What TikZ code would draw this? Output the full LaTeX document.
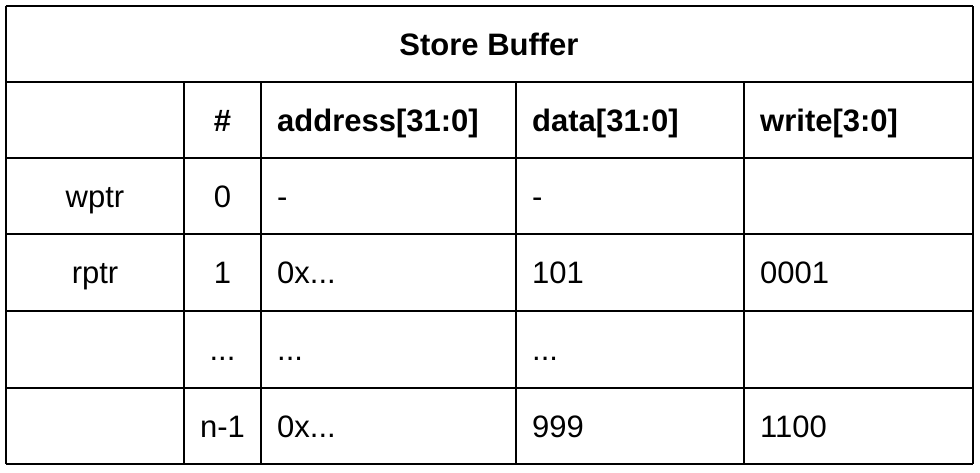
\documentclass[tikz,border=0pt]{standalone}
\usepackage{fontspec}
\setmainfont{Liberation Sans}
\usepackage{tikz}
\usetikzlibrary{calc}

\tikzset{
  cell/.style={inner sep=0pt, anchor=base, font=\fontsize{31}{37}\selectfont},
  lcell/.style={cell, anchor=base west},
  hdr/.style={font=\fontsize{31}{37}\selectfont\bfseries},
  grid/.style={line width=2pt, black}
}

\begin{document}
\begin{tikzpicture}[x=1pt, y=1pt]
  \newcommand\padLeft{16}
  \useasboundingbox (0,0) rectangle (980,-472);

  % horizontal rules
  \foreach \y in {6,82,158,234,311,388,464}{
    \draw[grid] (5.5,-\y) -- (973,-\y);
  }
  % vertical rules
  \foreach \x in {5.5,973}{
    \draw[grid] (\x,-6) -- (\x,-464);
  }
  \foreach \x in {184,261,516,744}{
    \draw[grid] (\x,-82) -- (\x,-464);
  }

  \node[cell, hdr] (title) at (489,-55.5) {Store Buffer};

  % header row
  \node[cell, hdr] (hnum) at (222.5,-131.5) {\#};
  \node[lcell, hdr] (haddr) at (261+\padLeft,-131.5) {address[31:0]};
  \node[lcell, hdr] (hdata) at (516+\padLeft,-131.5) {data[31:0]};
  \node[lcell, hdr] (hwrite) at (744+\padLeft,-131.5) {write[3:0]};

  % entries
  \node[cell] (wptr) at (95,-207.5) {wptr};
  \node[cell] (num0) at (222.5,-207.5) {0};
  \node[lcell] (addr0) at (261+\padLeft,-207.5) {-};
  \node[lcell] (data0) at (516+\padLeft,-207.5) {-};

  \node[cell] (rptr) at (95,-283.5) {rptr};
  \node[cell] (num1) at (222.5,-283.5) {1};
  \node[lcell] (addr1) at (261+\padLeft,-283.5) {0x...};
  \node[lcell] (data1) at (516+\padLeft,-283.5) {101};
  \node[lcell] (write1) at (744+\padLeft,-283.5) {0001};

  \node[cell] (numdots) at (222.5,-360.5) {...};
  \node[lcell] (addrdots) at (261+\padLeft,-360.5) {...};
  \node[lcell] (datadots) at (516+\padLeft,-360.5) {...};

  \node[cell] (numlast) at (222.5,-437) {n-1};
  \node[lcell] (addrlast) at (261+\padLeft,-437) {0x...};
  \node[lcell] (datalast) at (516+\padLeft,-437) {999};
  \node[lcell] (writelast) at (744+\padLeft,-437) {1100};

\end{tikzpicture}
\end{document}
